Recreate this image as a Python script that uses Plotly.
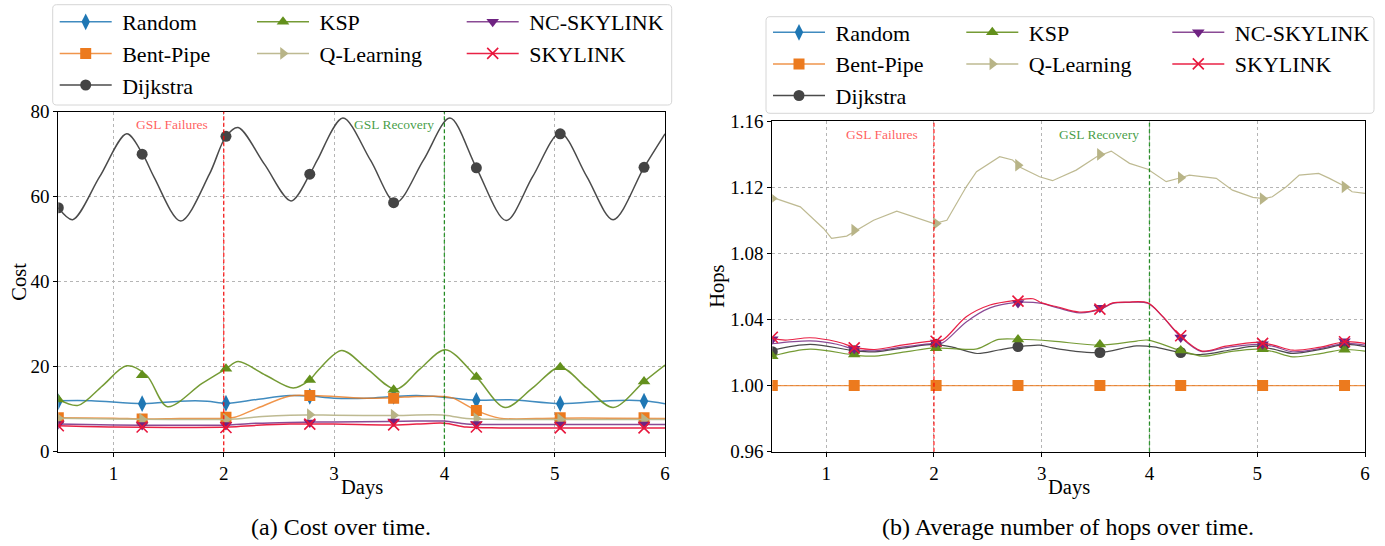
import plotly.graph_objects as go

W, H = 1385, 546
FONT = "Liberation Serif"

# ---------------- data ----------------
marker_days = [0.5, 1.26, 2.02, 2.78, 3.54, 4.29, 5.05, 5.81]
day_ticks = [1, 2, 3, 4, 5, 6]
cost_ticks = [0, 20, 40, 60, 80]
hops_ticks = [0.96, 1.00, 1.04, 1.08, 1.12, 1.16]
event_days = [2, 4]
event_names = ["GSL Failures", "GSL Recovery"]
series_names = ["Random", "Bent-Pipe", "Dijkstra", "KSP", "Q-Learning", "NC-SKYLINK", "SKYLINK"]

# (a) Cost over time
random_cost_x = [0.5, 0.8, 1.27, 1.6, 1.85, 2.02, 2.3, 2.6, 2.78, 3.0, 3.3, 3.54, 3.75, 4.0, 4.29, 4.6, 5.05, 5.5, 5.8, 6.0]
random_cost_y = [12.0, 12.0, 11.3, 11.9, 11.9, 11.4, 12.3, 13.2, 13.1, 12.6, 12.6, 13.0, 13.2, 12.8, 12.1, 12.2, 11.3, 12.0, 12.0, 11.3]
random_cost_m = [11.8, 11.3, 11.4, 13.0, 13.0, 12.1, 11.3, 11.9]

bent_cost_x = [0.5, 1.0, 1.27, 1.6, 2.02, 2.1, 2.3, 2.6, 2.78, 3.0, 3.3, 3.54, 3.75, 4.0, 4.08, 4.29, 4.5, 5.0, 5.5, 6.0]
bent_cost_y = [8.0, 7.9, 7.7, 7.8, 7.9, 8.1, 10.2, 13.1, 13.2, 13.0, 12.6, 12.7, 13.0, 13.0, 12.6, 9.7, 7.9, 7.9, 7.9, 7.8]
bent_cost_m = [8.0, 7.7, 8.1, 13.2, 12.6, 9.7, 8.0, 8.0]

dijkstra_cost_x = [0.5, 0.63, 0.875, 1.12, 1.265, 1.37, 1.61, 1.87, 2.02, 2.13, 2.37, 2.61, 2.78, 2.85, 3.08, 3.33, 3.56, 3.81, 4.05, 4.29, 4.56, 4.8, 5.05, 5.29, 5.53, 5.81, 6.0]
dijkstra_cost_y = [57.4, 54.6, 64.7, 74.8, 70.0, 64.5, 54.3, 65.3, 74.2, 76.3, 67.6, 59.0, 65.3, 68.7, 78.5, 68.6, 58.6, 68.6, 78.5, 66.8, 54.4, 64.7, 75.0, 64.8, 54.6, 66.9, 74.8]
dijkstra_cost_m = [57.4, 70.0, 74.2, 65.3, 58.6, 66.8, 74.8, 66.9]

ksp_cost_x = [0.5, 0.68, 0.9, 1.12, 1.3, 1.49, 1.8, 2.02, 2.13, 2.38, 2.63, 2.78, 2.85, 3.07, 3.3, 3.56, 3.78, 4.01, 4.29, 4.55, 4.8, 5.05, 5.29, 5.53, 5.81, 6.0]
ksp_cost_y = [12.3, 10.9, 15.5, 20.2, 18.0, 10.6, 16.0, 19.5, 21.2, 18.0, 15.0, 16.9, 19.0, 23.8, 19.5, 14.7, 19.5, 24.0, 17.6, 10.4, 15.0, 19.9, 15.0, 10.4, 16.5, 20.4]
ksp_cost_m = [12.3, 18.0, 19.5, 16.9, 14.6, 17.6, 19.9, 16.5]

ql_cost_x = [0.5, 1.0, 1.5, 2.02, 2.1, 2.35, 2.6, 3.0, 3.5, 4.0, 4.2, 4.5, 5.0, 6.0]
ql_cost_y = [7.9, 7.7, 7.6, 7.6, 7.7, 8.3, 8.6, 8.6, 8.5, 8.6, 7.8, 7.6, 7.6, 7.6]
ql_cost_m = [7.9, 7.6, 7.6, 8.7, 8.6, 7.8, 7.6, 7.6]

nc_cost_x = [0.5, 1.0, 1.5, 2.05, 2.3, 2.6, 3.0, 3.5, 3.75, 4.0, 4.2, 4.5, 5.0, 6.0]
nc_cost_y = [6.5, 6.3, 6.2, 6.3, 6.7, 6.9, 7.0, 7.1, 7.2, 7.2, 6.5, 6.4, 6.4, 6.4]
nc_cost_m = [6.5, 6.3, 6.3, 6.9, 7.1, 6.5, 6.4, 6.4]

sky_cost_x = [0.5, 1.0, 1.5, 2.05, 2.3, 2.6, 3.0, 3.5, 3.75, 4.0, 4.2, 4.5, 5.0, 6.0]
sky_cost_y = [6.1, 5.8, 5.7, 5.8, 6.2, 6.5, 6.5, 6.3, 6.5, 6.7, 5.8, 5.6, 5.6, 5.6]
sky_cost_m = [6.1, 5.8, 5.7, 6.5, 6.3, 5.8, 5.6, 5.6]

# (b) Average number of hops over time (Random lies above the visible range)
random_hops_x = []
random_hops_y = []
random_hops_m = []

bent_hops_x = [0.5, 6.0]
bent_hops_y = [1.0, 1.0]
bent_hops_m = [1.0, 1.0, 1.0, 1.0, 1.0, 1.0, 1.0, 1.0]

dijkstra_hops_x = [0.5, 0.85, 1.27, 1.45, 1.75, 2.0, 2.18, 2.4, 2.6, 2.78, 2.98, 3.1, 3.3, 3.54, 3.88, 4.04, 4.28, 4.49, 4.75, 4.99, 5.15, 5.33, 5.6, 5.82, 6.0]
dijkstra_hops_y = [1.0214, 1.0249, 1.0210, 1.0204, 1.0230, 1.0249, 1.0231, 1.0194, 1.0215, 1.0234, 1.0244, 1.0228, 1.0208, 1.0200, 1.0240, 1.0234, 1.0200, 1.0188, 1.0215, 1.0238, 1.0220, 1.0194, 1.0220, 1.0249, 1.0236]
dijkstra_hops_m = [1.0205, 1.0210, 1.0250, 1.0236, 1.0200, 1.0200, 1.0240, 1.0248]

ksp_hops_x = [0.5, 0.85, 1.27, 1.45, 1.75, 2.0, 2.2, 2.4, 2.6, 2.8, 3.1, 3.54, 3.88, 3.985, 4.28, 4.49, 4.75, 4.99, 5.15, 5.33, 5.6, 5.82, 6.0]
ksp_hops_y = [1.0178, 1.0220, 1.0184, 1.0178, 1.0205, 1.0228, 1.0222, 1.0222, 1.0279, 1.0280, 1.0269, 1.0244, 1.0269, 1.0275, 1.0213, 1.0178, 1.0205, 1.0220, 1.0205, 1.0174, 1.0195, 1.0218, 1.0208]
ksp_hops_m = [1.0178, 1.0188, 1.0226, 1.0278, 1.0248, 1.0212, 1.0220, 1.0216]

ql_hops_x = [0.5, 0.76, 0.975, 1.05, 1.19, 1.26, 1.44, 1.655, 1.84, 2.0, 2.12, 2.30, 2.395, 2.61, 2.73, 2.8, 2.98, 3.1, 3.32, 3.51, 3.645, 3.815, 3.985, 4.155, 4.29, 4.37, 4.62, 4.77, 4.96, 5.06, 5.14, 5.27, 5.39, 5.57, 5.67, 5.82, 5.88, 6.0]
ql_hops_y = [1.1138, 1.1081, 1.0950, 1.0890, 1.0904, 1.0930, 1.1000, 1.1055, 1.1017, 1.0980, 1.1000, 1.1202, 1.1293, 1.1384, 1.1364, 1.1320, 1.1263, 1.1239, 1.1303, 1.1384, 1.1418, 1.1344, 1.1308, 1.1233, 1.1257, 1.1273, 1.1253, 1.1182, 1.1138, 1.1130, 1.1142, 1.1202, 1.1273, 1.1283, 1.1253, 1.1202, 1.1172, 1.1162]
ql_hops_m = [1.1132, 1.0940, 1.0980, 1.1333, 1.1398, 1.1257, 1.1130, 1.1202]

nc_hops_x = [0.5, 0.85, 1.1, 1.27, 1.45, 1.7, 2.0, 2.08, 2.3, 2.52, 2.77, 2.92, 3.0, 3.15, 3.35, 3.54, 3.66, 3.8, 3.985, 4.12, 4.28, 4.48, 4.71, 4.99, 5.15, 5.33, 5.57, 5.82, 6.0]
nc_hops_y = [1.0253, 1.0270, 1.0250, 1.0218, 1.0210, 1.0232, 1.0255, 1.0258, 1.0385, 1.0470, 1.0503, 1.0503, 1.0497, 1.0470, 1.0440, 1.0460, 1.0497, 1.0503, 1.0498, 1.0418, 1.0300, 1.0207, 1.0230, 1.0249, 1.0237, 1.0204, 1.0222, 1.0255, 1.0245]
nc_hops_m = [1.0280, 1.0222, 1.0260, 1.0500, 1.0470, 1.0290, 1.0250, 1.0268]

sky_hops_x = [0.5, 0.62, 0.85, 1.1, 1.27, 1.45, 1.7, 2.0, 2.08, 2.3, 2.52, 2.77, 2.92, 3.0, 3.15, 3.35, 3.54, 3.66, 3.8, 3.985, 4.12, 4.28, 4.48, 4.71, 4.99, 5.15, 5.33, 5.57, 5.82, 6.0]
sky_hops_y = [1.0285, 1.0275, 1.0289, 1.0265, 1.0231, 1.0218, 1.0244, 1.0270, 1.0275, 1.0416, 1.0487, 1.0517, 1.0525, 1.0500, 1.0475, 1.0445, 1.0462, 1.0500, 1.0505, 1.0500, 1.0420, 1.0305, 1.0210, 1.0238, 1.0261, 1.0245, 1.0214, 1.0231, 1.0265, 1.0255]
sky_hops_m = [1.0292, 1.0228, 1.0268, 1.0511, 1.0462, 1.0301, 1.0255, 1.0265]

cost_data = {
    "Random": (random_cost_x, random_cost_y, random_cost_m),
    "Bent-Pipe": (bent_cost_x, bent_cost_y, bent_cost_m),
    "Dijkstra": (dijkstra_cost_x, dijkstra_cost_y, dijkstra_cost_m),
    "KSP": (ksp_cost_x, ksp_cost_y, ksp_cost_m),
    "Q-Learning": (ql_cost_x, ql_cost_y, ql_cost_m),
    "NC-SKYLINK": (nc_cost_x, nc_cost_y, nc_cost_m),
    "SKYLINK": (sky_cost_x, sky_cost_y, sky_cost_m),
}
hops_data = {
    "Random": (random_hops_x, random_hops_y, random_hops_m),
    "Bent-Pipe": (bent_hops_x, bent_hops_y, bent_hops_m),
    "Dijkstra": (dijkstra_hops_x, dijkstra_hops_y, dijkstra_hops_m),
    "KSP": (ksp_hops_x, ksp_hops_y, ksp_hops_m),
    "Q-Learning": (ql_hops_x, ql_hops_y, ql_hops_m),
    "NC-SKYLINK": (nc_hops_x, nc_hops_y, nc_hops_m),
    "SKYLINK": (sky_hops_x, sky_hops_y, sky_hops_m),
}

# ---------------- styles ----------------
style = {
    "Random":     dict(line="rgba(31,119,180,0.85)", marker="#1f77b4", symbol="diamond-tall", size=12, col=0),
    "Bent-Pipe":  dict(line="rgba(236,122,30,0.8)", marker="#ec7a1e", symbol="square", size=11, col=0),
    "Dijkstra":   dict(line="rgba(55,55,55,0.9)", marker="#444444", symbol="circle", size=11, col=0),
    "KSP":        dict(line="rgba(102,144,31,0.9)", marker="#63901c", symbol="triangle-up", size=11, col=1),
    "Q-Learning": dict(line="rgba(186,182,140,0.95)", marker="#b8b487", symbol="triangle-right", size=11, col=1),
    "NC-SKYLINK": dict(line="rgba(118,42,131,0.85)", marker="#6f2382", symbol="triangle-down", size=11, col=2),
    "SKYLINK":    dict(line="rgba(232,22,60,0.95)", marker="#e8163c", symbol="x-thin", size=11, col=2),
}

fig = go.Figure()

panels = [
    (cost_data, "x", "y", ["legend", "legend2", "legend3"], 1.5),
    (hops_data, "x2", "y2", ["legend4", "legend5", "legend6"], 1.2),
]

for data, xa, ya, legs, lw in panels:
    for name in series_names:
        st = style[name]
        lx, ly, my = data[name]
        mx = marker_days[: len(my)]
        shape = "linear" if (name == "Q-Learning" and xa == "x2") else "spline"
        fig.add_trace(go.Scatter(
            x=lx, y=ly, mode="lines", xaxis=xa, yaxis=ya, showlegend=False,
            line=dict(color=st["line"], width=lw, shape=shape, smoothing=0.9),
            hoverinfo="skip"))
        mk = dict(color=st["marker"], symbol=st["symbol"], size=st["size"])
        if st["symbol"] == "x-thin":
            mk["line"] = dict(color=st["marker"], width=1.6)
        fig.add_trace(go.Scatter(
            x=mx, y=my, mode="markers", xaxis=xa, yaxis=ya, showlegend=False,
            marker=mk, hoverinfo="skip"))
        # legend entry
        fig.add_trace(go.Scatter(
            x=[None], y=[None], mode="lines+markers", xaxis=xa, yaxis=ya,
            name="\u00a0" + name, legend=legs[st["col"]], showlegend=True,
            line=dict(color=st["line"], width=1.5), marker=mk))

axis_common = dict(
    showline=True, mirror=True, linecolor="black", linewidth=1.2,
    ticks="outside", ticklen=4, tickwidth=1, tickcolor="black",
    showgrid=True, gridcolor="#b5b5b5", griddash="dot", gridwidth=1,
    zeroline=False, automargin=False, tickfont=dict(family=FONT, size=19, color="black"),
)

def px2x(p):
    return p / W

def py2y(p):
    return 1 - p / H

fig.update_layout(
    width=W, height=H, margin=dict(l=0, r=0, t=0, b=0, autoexpand=False),
    font=dict(family=FONT, size=19, color="black"),
    paper_bgcolor="white", plot_bgcolor="white",
    xaxis=dict(domain=[px2x(58.3), px2x(665)], range=[0.5, 6], tickvals=day_ticks, anchor="y", **axis_common),
    yaxis=dict(domain=[py2y(451.7), py2y(111.7)], range=[0, 80], tickvals=cost_ticks, anchor="x", **axis_common),
    xaxis2=dict(domain=[px2x(772.3), px2x(1365)], range=[0.5, 6], tickvals=day_ticks, anchor="y2", **axis_common),
    yaxis2=dict(domain=[py2y(451.7), py2y(121)], range=[0.96, 1.16], tickvals=hops_ticks, tickformat=".2f", anchor="x2", **axis_common),
)

def legend_cfg(x_px, top_px):
    return dict(x=px2x(x_px), y=py2y(top_px), xanchor="left", yanchor="top",
                xref="paper", yref="paper", orientation="v",
                bgcolor="rgba(0,0,0,0)", borderwidth=0, itemwidth=52,
                font=dict(family=FONT, size=22, color="black"),
                tracegroupgap=0, traceorder="normal", itemclick=False)

fig.update_layout(
    legend=legend_cfg(54.7, 1.0), legend2=legend_cfg(252, 1.0), legend3=legend_cfg(461.7, 1.0),
    legend4=legend_cfg(768, 11.5), legend5=legend_cfg(961.3, 11.5), legend6=legend_cfg(1167.3, 11.5),
)

def rounded_rect(x0, y0, x1, y1, r):
    def P(x, y):
        return f"{px2x(x):.5f},{py2y(y):.5f}"
    return (f"M {P(x0 + r, y0)} L {P(x1 - r, y0)} Q {P(x1, y0)} {P(x1, y0 + r)} "
            f"L {P(x1, y1 - r)} Q {P(x1, y1)} {P(x1 - r, y1)} L {P(x0 + r, y1)} "
            f"Q {P(x0, y1)} {P(x0, y1 - r)} L {P(x0, y0 + r)} Q {P(x0, y0)} {P(x0 + r, y0)} Z")

shapes = [
    dict(type="path", path=rounded_rect(52.7, 4.7, 671.7, 105, 4), xref="paper", yref="paper",
         fillcolor="rgba(255,255,255,0.8)", line=dict(color="#d6d6d6", width=1), layer="above"),
    dict(type="path", path=rounded_rect(766, 16.7, 1374, 113.3, 4), xref="paper", yref="paper",
         fillcolor="rgba(255,255,255,0.8)", line=dict(color="#d6d6d6", width=1), layer="above"),
]
event_colors = ["rgba(255,0,0,0.85)", "rgba(0,128,0,0.8)"]
event_text_colors = ["rgba(255,40,40,0.75)", "rgba(30,140,30,0.85)"]
event_shift = [-14, -8]
annotations = []
for xa, ya in [("x", "y"), ("x2", "y2")]:
    for d, nm, c, tc, sh in zip(event_days, event_names, event_colors, event_text_colors, event_shift):
        shapes.append(dict(type="line", xref=xa, yref=f"{ya} domain", x0=d, x1=d, y0=0, y1=1,
                           line=dict(color=c, width=1.3, dash="4px,2.5px"), layer="above"))
        annotations.append(dict(text=nm, xref=xa, yref=f"{ya} domain", x=d, y=1, xanchor="right",
                                yanchor="middle", xshift=sh, yshift=-13, showarrow=False,
                                font=dict(family=FONT, size=13.5, color=tc)))

title_font = dict(family=FONT, size=20.5, color="black")
caption_font = dict(family=FONT, size=24, color="black")
annotations += [
    dict(text="Cost", xref="paper", yref="paper", x=px2x(19), y=py2y(281.7), textangle=-90,
         showarrow=False, xanchor="center", yanchor="middle", font=title_font),
    dict(text="Hops", xref="paper", yref="paper", x=px2x(717.5), y=py2y(286.3), textangle=-90,
         showarrow=False, xanchor="center", yanchor="middle", font=title_font),
    dict(text="Days", xref="paper", yref="paper", x=px2x(361.7), y=py2y(487), showarrow=False,
         xanchor="center", yanchor="middle", font=title_font),
    dict(text="Days", xref="paper", yref="paper", x=px2x(1068.6), y=py2y(487), showarrow=False,
         xanchor="center", yanchor="middle", font=title_font),
    dict(text="(a) Cost over time.", xref="paper", yref="paper", x=px2x(341), y=py2y(527),
         showarrow=False, xanchor="center", yanchor="middle", font=caption_font),
    dict(text="(b) Average number of hops over time.", xref="paper", yref="paper", x=px2x(1068), y=py2y(527),
         showarrow=False, xanchor="center", yanchor="middle", font=caption_font),
]
fig.update_layout(shapes=shapes, annotations=annotations)

fig.write_html("out.html")
